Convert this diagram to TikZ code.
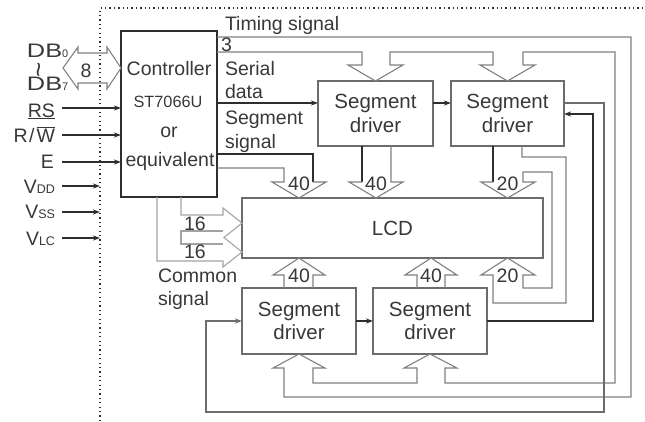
\documentclass[tikz,border=0pt]{standalone}
\usepackage{fontspec}
\setmainfont{Liberation Sans}
\usetikzlibrary{arrows.meta,calc}
\definecolor{dk}{gray}{0.18}
\definecolor{md}{gray}{0.5}
\definecolor{lt}{gray}{0.64}
\definecolor{tx}{gray}{0.22}
\newcommand{\myovl}[1]{\ensuremath{\overline{\hbox{#1}}}}
\begin{document}
\begin{tikzpicture}[x=1pt,y=-1pt,
  every node/.style={inner sep=0pt,outer sep=0pt,text=tx},
  lbl/.style={font=\fontsize{19.5}{23.5}\selectfont},
  small/.style={font=\fontsize{16.3}{18}\selectfont},
  ctrlbox/.style={draw=dk,line width=1.2pt},
  segbox/.style={draw=md!85!black,line width=1.2pt,font=\fontsize{20.5}{23.5}\selectfont,align=center},
  dkline/.style={draw=dk,line width=1.2pt},
  bus/.style={draw=md,line width=1.1pt,line join=miter},
  ltline/.style={draw=lt,line width=1.1pt,line join=miter},
  arr/.style={-{Stealth[length=7pt,width=5pt,inset=2pt]}},
  dotline/.style={draw=dk,line width=1.3pt,dash pattern=on 1.3pt off 3.1pt}]
\useasboundingbox (0,0) rectangle (645,421);

% frame
\draw[dotline] (100,421) -- (100,8) -- (645,8);

% boxes
\node[ctrlbox,minimum width=96pt,minimum height=166pt] (ctrl) at (169,114) {};
\node[segbox,minimum width=115pt,minimum height=65pt] (sd1) at (375.5,113.5) {Segment\\driver};
\node[segbox,minimum width=113pt,minimum height=65pt] (sd2) at (507.5,113.5) {Segment\\driver};
\node[segbox,minimum width=301pt,minimum height=60pt] (lcd) at (392.5,228) {LCD};
\node[segbox,minimum width=114pt,minimum height=66pt] (sd3) at (299,321) {Segment\\driver};
\node[segbox,minimum width=114pt,minimum height=66pt] (sd4) at (430,321) {Segment\\driver};

% controller text
\node[lbl,anchor=base] (c1) at (169,75) {Controller};
\node[small,anchor=base] (c2) at (168,107) {ST7066U};
\node[lbl,anchor=base] (c3) at (169,137) {or};
\node[lbl,anchor=base] (c4) at (170,166) {equivalent};

% timing bus
\draw[bus] (ctrl.east|-0,37) -- (631,37) -- (631,397) -- (284,397) -- (284,368) -- (273,368)
  -- (sd3.south) -- (325,368) -- (313,368) -- (313,383) -- (417,383) -- (417,368) -- (404,368)
  -- (sd4.south) -- (457,368) -- (445,368) -- (445,383) -- (615,383) -- (615,52) -- (523,52)
  -- (523,65) -- (535,65) -- (sd2.north) -- (480,65) -- (493,65) -- (493,52) -- (390,52)
  -- (390,65) -- (403,65) -- (sd1.north) -- (348,65) -- (362,65) -- (362,52) -- (ctrl.east|-0,52);

% serial data chain
\draw[dkline,arr] (ctrl.east|-0,103) -- (sd1.west|-0,103);
\draw[dkline,arr] (sd1.east|-0,103) -- (sd2.west|-0,103);
\draw[dkline,draw=dk!70!white,arr] (sd2.east|-0,103) -- (604,103) -- (604,412) -- (206,412) -- (206,321) -- (sd3.west);
\draw[dkline,arr] (sd3.east) -- (sd4.west);
\draw[dkline,arr] (sd4.east) -- (593,321) -- (593,114) -- (sd2.east|-0,114);

% segment signal 40 from controller
\draw[dkline] (ctrl.east|-0,154) -| (313,182);
\draw[bus] (313,182) -- (326,182) -- (299,198) -- (272,182) -- (284,182) -- (284,168) -- (ctrl.east|-0,168);
% 40 from sd1
\draw[dkline] (sd1.south-|362,0) -- (362,182);
\draw[bus] (362,182) -- (349,182) -- (376,198) -- (403,182) -- (391,182) -- (sd1.south-|391,0);
% 20 / 20 from sd2
\draw[dkline] (sd2.south-|493,0) -- (493,182);
\draw[bus] (493,182) -- (481,182) -- (507.5,198) -- (535,182) -- (523,182) -- (523,172)
  -- (552,172) -- (552,288) -- (523,288) -- (523,275) -- (535,275) -- (507.5,258) -- (481,275)
  -- (493,275) -- (493,303) -- (566,303) -- (566,157) -- (522,157) -- (sd2.south-|522,0);
% 40 up from sd3, sd4
\draw[bus] (sd3.north-|284,0) -- (284,275) -- (273,275) -- (299,258) -- (325,275) -- (313,275) -- (sd3.north-|313,0);
\draw[bus] (sd4.north-|417,0) -- (417,275) -- (405,275) -- (431,258) -- (457,275) -- (445,275) -- (sd4.north-|445,0);

% common signal
\draw[ltline] (ctrl.south-|181,0) -- (181,215) -- (223,215) -- (223,208) -- (242,223) -- (224,237.5)
  -- (242,252) -- (223,267) -- (223,261) -- (157,261) -- (ctrl.south-|157,0);
\draw[ltline] (223,231) -- (181,231) -- (181,244) -- (223,244);

% data bus double arrow
\draw[bus] (63,68) -- (78,47) -- (78,53) -- (107,53) -- (107,47) -- (ctrl.west|-0,68)
  -- (107,89) -- (107,83) -- (78,83) -- (78,89) -- cycle;

% input arrows
\coordinate (rs) at (62,108);
\coordinate (rw) at (62,135);
\coordinate (en) at (62,162);
\coordinate (vdd) at (62,186);
\coordinate (vss) at (62,212);
\coordinate (vlc) at (62,238);
\coordinate (vdde) at (100,186);
\coordinate (vsse) at (100,212);
\coordinate (vlce) at (100,238);
\draw[dkline,arr] (rs) -- (ctrl.west|-rs);
\draw[dkline,arr] (rw) -- (ctrl.west|-rw);
\draw[dkline,arr] (en) -- (ctrl.west|-en);
\draw[dkline,arr] (vdd) -- (vdde);
\draw[dkline,arr] (vss) -- (vsse);
\draw[dkline,arr] (vlc) -- (vlce);

% left labels
\node[lbl,anchor=base west] (db0) at (27,57) {\scalebox{1.3}[1]{DB}{\fontsize{11}{11}\selectfont 0}};
\node[lbl,anchor=center,rotate=90] (tl) at (42,70) {\fontsize{26}{26}\selectfont\textasciitilde};
\node[lbl,anchor=base west] (db7) at (27,90) {\scalebox{1.3}[1]{DB}{\fontsize{11}{11}\selectfont 7}};
\node[lbl,anchor=base east] (lrs) at (55,117) {\underline{RS}};
\node[lbl,anchor=base east] (lrw) at (55,142) {R\hspace{1.5pt}/\hspace{2pt}\myovl{W}};
\node[lbl,anchor=base east] (le) at (54,168) {E};
\node[lbl,anchor=base east] (lvdd) at (55,193) {V{\fontsize{12.5}{12.5}\selectfont DD}};
\node[lbl,anchor=base east] (lvss) at (55,218) {V{\fontsize{12.5}{12.5}\selectfont SS}};
\node[lbl,anchor=base east] (lvlc) at (55,245) {V{\fontsize{12.5}{12.5}\selectfont LC}};
\node[lbl,anchor=base] (n8) at (86,77) {8};

% signal labels
\node[lbl,anchor=base west] (tsig) at (225,30) {Timing signal};
\node[lbl,anchor=base west] (n3) at (221,51) {3};
\node[lbl,anchor=base west] (ser) at (225,75) {Serial};
\node[lbl,anchor=base west] (dat) at (225,98) {data};
\node[lbl,anchor=base west] (seg) at (225,124) {Segment};
\node[lbl,anchor=base west] (sgn) at (225,148) {signal};
\node[lbl,anchor=base west] (com) at (158,282) {Common};
\node[lbl,anchor=base west] (csg) at (158,305) {signal};
\node[lbl,anchor=base] (n16a) at (195,230) {16};
\node[lbl,anchor=base] (n16b) at (195,258) {16};

% bus widths
\node[lbl,anchor=base] (w1) at (299,190) {40};
\node[lbl,anchor=base] (w2) at (376,190) {40};
\node[lbl,anchor=base] (w3) at (507.5,190) {20};
\node[lbl,anchor=base] (w4) at (299,282) {40};
\node[lbl,anchor=base] (w5) at (431,282) {40};
\node[lbl,anchor=base] (w6) at (507.5,282) {20};
\end{tikzpicture}
\end{document}
